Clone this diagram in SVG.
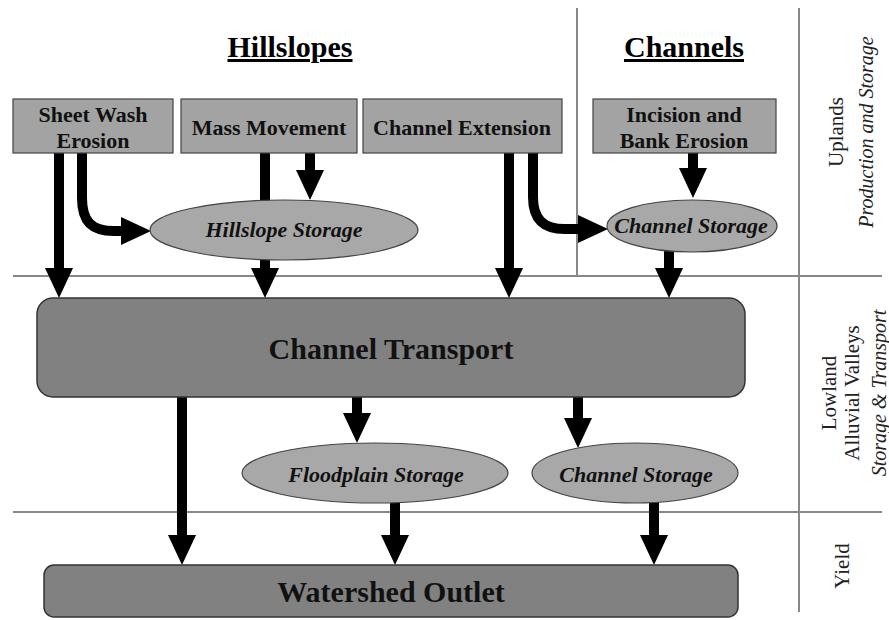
<svg xmlns="http://www.w3.org/2000/svg" width="889" height="620" viewBox="0 0 889 620">
<defs>
<style>
.grid{stroke:#888;stroke-width:2;fill:none}
.box{fill:#a3a3a3;stroke:#444;stroke-width:1.2}
.big{fill:#818181;stroke:#333;stroke-width:1.5}
.ell{fill:#a8a8a8;stroke:#444;stroke-width:1.2}
.arr{stroke:#000;stroke-width:10;fill:none;marker-end:url(#ah)}
.bt{font-family:"Liberation Serif","Times New Roman",serif;font-weight:bold;font-size:22px;fill:#111;text-anchor:middle}
.it{font-family:"Liberation Serif","Times New Roman",serif;font-weight:bold;font-style:italic;font-size:22px;fill:#111;text-anchor:middle}
.hd{font-family:"Liberation Serif","Times New Roman",serif;font-weight:bold;font-size:30px;fill:#000;text-anchor:middle;text-decoration:underline}
.bg{font-family:"Liberation Serif","Times New Roman",serif;font-weight:bold;font-size:30px;fill:#111;text-anchor:middle}
.side{font-family:"Liberation Serif","Times New Roman",serif;font-size:21px;fill:#222;text-anchor:middle}
.sidei{font-family:"Liberation Serif","Times New Roman",serif;font-style:italic;font-size:20px;fill:#222;text-anchor:middle}
</style>
<marker id="ah" viewBox="0 0 30 28" refX="0" refY="14" markerWidth="3" markerHeight="2.8" markerUnits="strokeWidth" orient="auto">
<path d="M0,0 L30,14 L0,28 z" fill="#000"/>
</marker>
</defs>
<rect width="889" height="620" fill="#fff"/>
<g id="grid">
<line class="grid" x1="13" y1="276" x2="882" y2="276"/>
<line class="grid" x1="13" y1="512" x2="882" y2="512"/>
<line class="grid" x1="577" y1="8" x2="577" y2="276"/>
<line class="grid" x1="799" y1="8" x2="799" y2="612"/>
</g>
<g id="headers">
<text class="hd" x="290" y="57">Hillslopes</text>
<text class="hd" x="684" y="57">Channels</text>
</g>
<g id="side-labels">
<text class="side" transform="translate(843,132) rotate(-90)">Uplands</text>
<text class="sidei" transform="translate(873,132) rotate(-90)">Production and Storage</text>
<text class="side" transform="translate(836,393) rotate(-90)">Lowland</text>
<text class="side" transform="translate(859,393) rotate(-90)">Alluvial Valleys</text>
<text class="sidei" transform="translate(886,393) rotate(-90)">Storage &amp; Transport</text>
<text class="side" transform="translate(849,566) rotate(-90)">Yield</text>
</g>
<g id="connectors">
<path class="arr" d="M59,153 V268"/>
<path class="arr" d="M82,153 V198 C82,222 92,231 114,231 H121"/>
<path class="arr" d="M265,153 V268"/>
<path class="arr" d="M310,153 V170"/>
<path class="arr" d="M509,153 V268"/>
<path class="arr" d="M533,153 V197 C533,219 543,229 565,229 H578"/>
<path class="arr" d="M693,153 V168"/>
<path class="arr" d="M669,240 V268"/>
<path class="arr" d="M182,397 V535"/>
<path class="arr" d="M357,397 V413"/>
<path class="arr" d="M578,397 V418"/>
<path class="arr" d="M395,490 V535"/>
<path class="arr" d="M654,490 V535"/>
</g>
<g id="sheet-wash">
<rect class="box" x="13" y="99" width="160" height="54"/>
<text class="bt" x="93" y="122">Sheet Wash</text>
<text class="bt" x="93" y="148">Erosion</text>
</g>
<g id="mass-movement">
<rect class="box" x="181" y="99" width="176" height="54"/>
<text class="bt" x="269" y="135">Mass Movement</text>
</g>
<g id="channel-extension">
<rect class="box" x="363" y="99" width="199" height="54"/>
<text class="bt" x="462" y="135">Channel Extension</text>
</g>
<g id="incision">
<rect class="box" x="593" y="99" width="183" height="54"/>
<text class="bt" x="684" y="122">Incision and</text>
<text class="bt" x="684" y="148">Bank Erosion</text>
</g>
<g id="hillslope-storage">
<ellipse class="ell" cx="284" cy="230" rx="134" ry="30"/>
<text class="it" x="284" y="237">Hillslope Storage</text>
</g>
<g id="channel-storage-upper">
<ellipse class="ell" cx="692" cy="226" rx="85" ry="26"/>
<text class="it" x="691" y="233">Channel Storage</text>
</g>
<g id="channel-transport">
<rect class="big" x="37" y="298" width="708" height="99" rx="16"/>
<text class="bg" x="391" y="359">Channel Transport</text>
</g>
<g id="floodplain-storage">
<ellipse class="ell" cx="375" cy="473" rx="133" ry="30"/>
<text class="it" x="376" y="482">Floodplain Storage</text>
</g>
<g id="channel-storage-lower">
<ellipse class="ell" cx="635" cy="473" rx="103" ry="30"/>
<text class="it" x="636" y="482">Channel Storage</text>
</g>
<g id="watershed-outlet">
<rect class="big" x="44" y="565" width="694" height="52" rx="10"/>
<text class="bg" x="391" y="602">Watershed Outlet</text>
</g>
</svg>
